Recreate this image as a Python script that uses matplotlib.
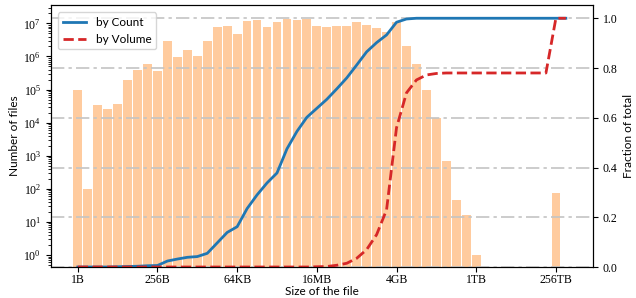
import numpy as np
import matplotlib
matplotlib.use('Agg')
import matplotlib.pyplot as plt

plt.rcParams['font.family'] = ['Liberation Serif', 'DejaVu Serif']
plt.rcParams['mathtext.fontset'] = 'stix'

# one bin per power of two, bin 0 = 1B ... bin 48 = 256TB
bin_idx = [0, 1, 2, 3, 4, 5, 6, 7, 8, 9, 10, 11, 12, 13, 14, 15, 16, 17, 18, 19,
           20, 21, 22, 23, 24, 25, 26, 27, 28, 29, 30, 31, 32, 33, 34, 35, 36, 37,
           38, 39, 40, 48]
n_files = [1.0e5, 100, 3.4e4, 2.6e4, 3.6e4, 1.9e5, 3.9e5, 5.9e5, 3.7e5, 3.0e6,
           9.8e5, 1.6e6, 1.0e6, 3.0e6, 7.9e6, 8.3e6, 4.8e6, 1.17e7, 1.26e7, 7.9e6,
           1.12e7, 1.4e7, 1.26e7, 1.4e7, 8.3e6, 7.6e6, 8.3e6, 8.3e6, 1.1e7, 8.9e6,
           7.1e6, 5.6e6, 1.1e7, 2.1e6, 5.9e5, 9.6e4, 1.4e4, 690, 46, 16,
           1.0, 76]

# cumulative curves, one point per bin (0..49)
line_idx = list(range(50))
by_count = [0.0, 0.0, 0.0, 0.0, 0.001, 0.002, 0.003, 0.005, 0.006, 0.024,
            0.032, 0.039, 0.042, 0.055, 0.097, 0.139, 0.162, 0.235, 0.29, 0.338,
            0.378, 0.475, 0.545, 0.602, 0.638, 0.674, 0.716, 0.76, 0.812, 0.865,
            0.902, 0.933, 0.984, 0.997, 1.0, 1.0, 1.0, 1.0, 1.0, 1.0,
            1.0, 1.0, 1.0, 1.0, 1.0, 1.0, 1.0, 1.0, 1.0, 1.0]
by_volume = [0.0, 0.0, 0.0, 0.0, 0.0, 0.0, 0.0, 0.0, 0.0, 0.0,
             0.0, 0.0, 0.0, 0.0, 0.0, 0.0, 0.0, 0.0, 0.0, 0.0,
             0.0, 0.0, 0.0, 0.0, 0.001, 0.002, 0.007, 0.015, 0.035, 0.07,
             0.13, 0.23, 0.56, 0.70, 0.752, 0.772, 0.778, 0.78, 0.78, 0.78,
             0.78, 0.78, 0.78, 0.78, 0.78, 0.78, 0.78, 0.78, 1.0, 1.0]

tick_pos = [0, 8, 16, 24, 32, 40, 48]
tick_labels = ['1B', '256B', '64KB', '16MB', '4GB', '1TB', '256TB']

label_font = dict(family='Lato', size=8.5)

fig, ax = plt.subplots(figsize=(6.36, 2.98), dpi=100)
fig.subplots_adjust(left=0.080, right=0.932, top=0.983, bottom=0.104)

ax.bar(bin_idx, n_files, width=0.88, color='tab:orange', alpha=0.4)
ax.set_yscale('log')
ax.set_ylim(0.434, 3.57e7)
ax.set_xlim(-2.7, 51.7)
ax.set_xticks(tick_pos)
ax.set_xticklabels(tick_labels)
ax.tick_params(labelsize=8.5)
ax.tick_params(axis='x', pad=1.5)
ax.set_xlabel('Size of the file', fontdict=label_font, labelpad=0)
ax.set_ylabel('Number of files', fontdict=label_font, labelpad=2)

ax2 = ax.twinx()
l1, = ax2.plot(line_idx, by_count, color='tab:blue', lw=2, label='by Count')
l2, = ax2.plot(line_idx, by_volume, color='tab:red', lw=2, ls='--', label='by Volume')
ax2.set_ylim(0, 1.053)
ax2.set_yticks([0.0, 0.2, 0.4, 0.6, 0.8, 1.0])
ax2.tick_params(labelsize=8.5)
ax2.grid(True, axis='y', linestyle=(0, (8, 2.5, 2, 2.5)), color='#c4c4c4', lw=1.2)
ax2.set_axisbelow(True)
ax2.set_ylabel('Fraction of total', fontdict=label_font, labelpad=4)

leg = ax2.legend(handles=[l1, l2], loc='upper left', prop={'family': 'Lato', 'size': 8.5},
                 bbox_to_anchor=(0.0, 1.0), borderaxespad=0.6)

fig.savefig('out.png', dpi=100)
